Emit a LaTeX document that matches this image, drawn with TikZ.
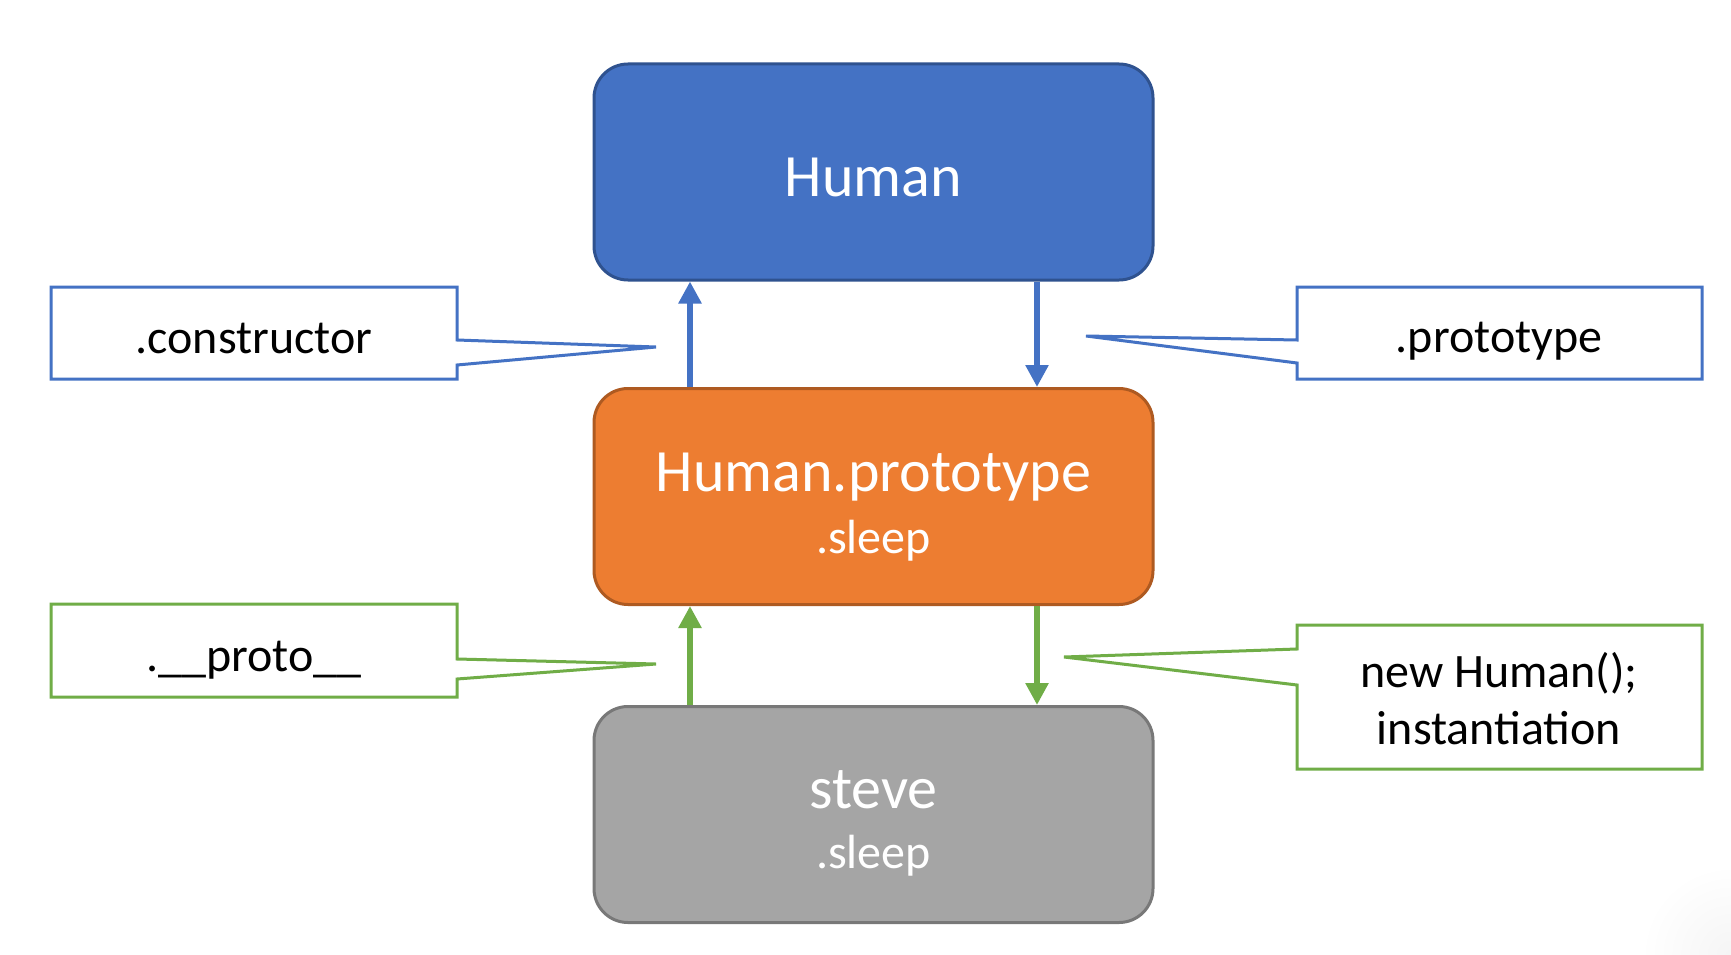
\documentclass[tikz,border=0pt]{standalone}
\usepackage{fontspec}
\setmainfont{Carlito}
\usetikzlibrary{arrows.meta}
\definecolor{hblue}{HTML}{4472C4}
\definecolor{hblueb}{HTML}{2F528F}
\definecolor{horange}{HTML}{ED7D31}
\definecolor{horangeb}{HTML}{AE5A21}
\definecolor{hgray}{HTML}{A5A5A5}
\definecolor{hgrayb}{HTML}{787878}
\definecolor{hgreen}{HTML}{70AD47}
\tikzset{
  bigbox/.style={rounded corners=34pt, line width=3pt, minimum width=559pt, minimum height=216pt, inner sep=0pt},
  titletext/.style={text=white, font=\fontsize{60}{72}\selectfont, inner sep=0pt},
  subtext/.style={text=white, font=\fontsize{48}{57}\selectfont, inner sep=0pt},
  calltext/.style={text=black, font=\fontsize{48}{57}\selectfont, align=center, inner sep=0pt},
  callblue/.style={draw=hblue, line width=3pt, fill=white, line join=miter},
  callgreen/.style={draw=hgreen, line width=3pt, fill=white, line join=miter},
  bluearrow/.style={draw=hblue, line width=6pt, -{Triangle[length=22pt,width=22pt]}},
  greenarrow/.style={draw=hgreen, line width=6pt, -{Triangle[length=22pt,width=22pt]}},
}
\begin{document}
\begin{tikzpicture}[x=1pt,y=-1pt]
\useasboundingbox (0,0) rectangle (1731,955);
\fill[white] (0,0) rectangle (1731,955);
\shade[inner color=black!4, outer color=white] (1731,955) circle (90);

% main boxes
\node[bigbox, fill=hblue, draw=hblueb] (human) at (873.5,172) {};
\node[bigbox, fill=horange, draw=horangeb] (proto) at (873.5,496.5) {};
\node[bigbox, fill=hgray, draw=hgrayb] (steve) at (873.5,814.5) {};

\node[titletext] (humant) at (873.5,177) {Human};
\node[titletext] (protot) at (873.5,477) {Human.prototype};
\node[subtext] (protos) at (873.5,541) {.sleep};
\node[titletext] (stevet) at (873.5,790) {steve};
\node[subtext] (steves) at (873.5,856) {.sleep};

% arrow columns
\coordinate (cl) at (690,0);
\coordinate (cr) at (1037,0);
\draw[bluearrow] (proto.north -| cl) -- (human.south -| cl);
\draw[bluearrow] (human.south -| cr) -- (proto.north -| cr);
\draw[greenarrow] (steve.north -| cl) -- (proto.south -| cl);
\draw[greenarrow] (proto.south -| cr) -- (steve.north -| cr);

% callouts
\coordinate (tipc) at (656,347);
\draw[callblue] (51,287) -- (457,287) -- (457,340) -- (tipc) -- (457,365) -- (457,379) -- (51,379) -- cycle;
\node[calltext] (constr) at (254,339) {.constructor};

\coordinate (tipp) at (1086,336);
\draw[callblue] (1702,287) -- (1297,287) -- (1297,340) -- (tipp) -- (1297,363) -- (1297,379) -- (1702,379) -- cycle;
\node[calltext] (prot) at (1499,341) {.prototype};

\coordinate (tipx) at (656,664);
\draw[callgreen] (51,604) -- (457,604) -- (457,659) -- (tipx) -- (457,679) -- (457,697) -- (51,697) -- cycle;
\node[calltext] (protox) at (254,660) {.\_\_proto\_\_};

\coordinate (tipn) at (1064,657);
\draw[callgreen] (1702,625) -- (1297,625) -- (1297,649) -- (tipn) -- (1297,685) -- (1297,769) -- (1702,769) -- cycle;
\node[calltext] (newh) at (1499,699) {new Human();\\instantiation};
\end{tikzpicture}
\end{document}
